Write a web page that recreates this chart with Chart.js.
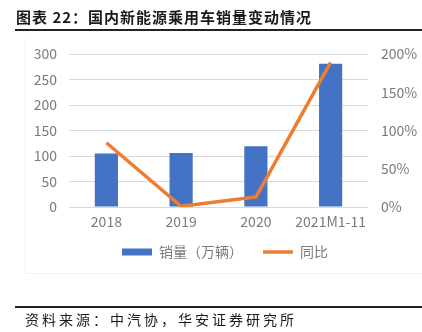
<!DOCTYPE html>
<html>
<head>
<meta charset="utf-8">
<script src="https://cdn.jsdelivr.net/npm/chart.js@4"></script>
<style>
  html, body { margin: 0; padding: 0; background: #fff; }
  #wrap { position: relative; width: 422px; height: 332px; overflow: hidden; }
  #title { position: absolute; left: 16px; top: 7px; font-family: "Noto Sans CJK SC", sans-serif; font-weight: bold; font-size: 15px; letter-spacing: 1px; color: #1a1a1a; white-space: nowrap; line-height: 20px; }
  #titleLine { position: absolute; left: 15px; top: 29px; width: 407px; height: 1.5px; background: #222; }
  #box { position: absolute; left: 25px; top: 38px; width: 400px; height: 235px; border-left: 1px solid #f2f2f2; border-bottom: 1px solid #f2f2f2; }
  #footLine { position: absolute; left: 15px; top: 306px; width: 407px; height: 1.5px; background: #222; }
  #foot { position: absolute; left: 25px; top: 309px; font-family: "Noto Sans CJK SC", sans-serif; font-size: 14px; letter-spacing: 3px; color: #1a1a1a; white-space: nowrap; line-height: 20px; }
  canvas { position: absolute; left: 0; top: 0; }
</style>
</head>
<body>
<div id="wrap">
  <div id="box"></div>
  <canvas id="c" width="422" height="332"></canvas>
  <div id="title">图表 22：国内新能源乘用车销量变动情况</div>
  <div id="titleLine"></div>
  <div id="footLine"></div>
  <div id="foot">资料来源：中汽协，华安证券研究所</div>
</div>
<script>
const categories = ["2018", "2019", "2020", "2021M1-11"];
const sales = [105, 106, 119, 281];
const yoy = [84, 1, 13, 189];
const leftTicks = [0, 50, 100, 150, 200, 250, 300];
const rightTicks = [0, 50, 100, 150, 200];

const FONT = '"Noto Sans CJK SC", "Noto Sans", sans-serif';
const TICK_COLOR = '#7a7a7a';

const legendShift = {
  id: 'legendShift',
  afterLayout(chart) {
    if (chart.legend) {
      chart.legend.top -= 12;
      chart.legend.bottom -= 12;
    }
  }
};

new Chart(document.getElementById('c'), {
  plugins: [legendShift],
  data: {
    labels: categories,
    datasets: [
      {
        type: 'line',
        label: '同比',
        data: yoy,
        yAxisID: 'y2',
        borderColor: '#ED7D31',
        backgroundColor: '#ED7D31',
        borderWidth: 3.5,
        pointRadius: 0,
        pointHoverRadius: 0,
        tension: 0,
        borderJoinStyle: 'round',
        pointStyle: 'line',
        order: 0
      },
      {
        type: 'bar',
        label: '销量（万辆）',
        data: sales,
        yAxisID: 'y',
        backgroundColor: '#4472C4',
        borderWidth: 0,
        categoryPercentage: 1,
        barPercentage: 0.31,
        pointStyle: 'rect',
        order: 1
      }
    ]
  },
  options: {
    responsive: false,
    animation: false,
    events: [],
    layout: { padding: { left: 28, right: 0, top: 54, bottom: 51 } },
    plugins: {
      tooltip: { enabled: false },
      legend: {
        position: 'bottom',
        reverse: true,
        labels: {
          usePointStyle: true,
          pointStyleWidth: 30,
          boxHeight: 7,
          padding: 20,
          color: '#7a7a7a',
          font: { family: FONT, size: 14 }
        }
      }
    },
    scales: {
      x: {
        grid: { display: false, drawTicks: false },
        border: { display: false },
        ticks: { color: TICK_COLOR, font: { family: FONT, size: 14 }, padding: 6, maxRotation: 0 },
        afterFit: s => { s.height = 30; }
      },
      y: {
        position: 'left',
        min: 0, max: 300,
        afterBuildTicks: s => { s.ticks = leftTicks.map(v => ({ value: v })); },
        grid: { color: '#D9D9D9', lineWidth: 1, drawTicks: false },
        border: { display: false },
        ticks: { color: TICK_COLOR, font: { family: FONT, size: 14 }, padding: 12 },
        afterFit: s => { s.width = 41; }
      },
      y2: {
        position: 'right',
        min: 0, max: 200,
        afterBuildTicks: s => { s.ticks = rightTicks.map(v => ({ value: v })); },
        grid: { display: false, drawTicks: false },
        border: { display: false },
        ticks: { color: TICK_COLOR, font: { family: FONT, size: 14 }, padding: 13, callback: v => v + '%' },
        afterFit: s => { s.width = 54; }
      }
    }
  }
});
</script>
</body>
</html>
